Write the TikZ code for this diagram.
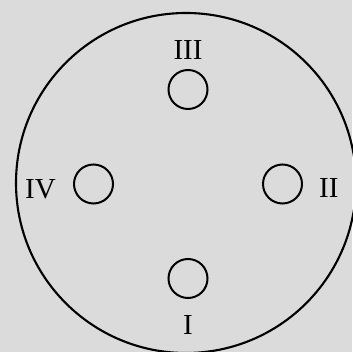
\documentclass[tikz,border=0pt]{standalone}
\usepackage{fontspec}
\setmainfont{Liberation Serif}
\usetikzlibrary{positioning}
\definecolor{colBg}{RGB}{219,219,219}

\begin{document}
\begin{tikzpicture}[x=1pt, y=1pt, font=\fontsize{29}{34}\selectfont]

% Fond et cadre
\useasboundingbox[fill=colBg] (0,0) rectangle (352,352);

% Grand disque
\coordinate (ctr) at (188,168);
\draw[line width=2.1pt] (186,169) circle (170);

% Trous et numeros
\foreach \n/\ang/\lab/\pos/\gap/\dy in {1/-90/I/below/16/0, 2/0/II/right/16/-4,
                                        3/90/III/above/9/0, 4/180/IV/left/17/-5} {
    \node[draw, circle, minimum size=39pt, inner sep=0pt, line width=2pt]
        (h\n) at ([shift={(\ang:94.5)}]ctr) {};
    \node[inner sep=0pt, \pos=\gap pt of h\n, yshift=\dy pt] (l\n) {\lab};
}

\end{tikzpicture}
\end{document}
